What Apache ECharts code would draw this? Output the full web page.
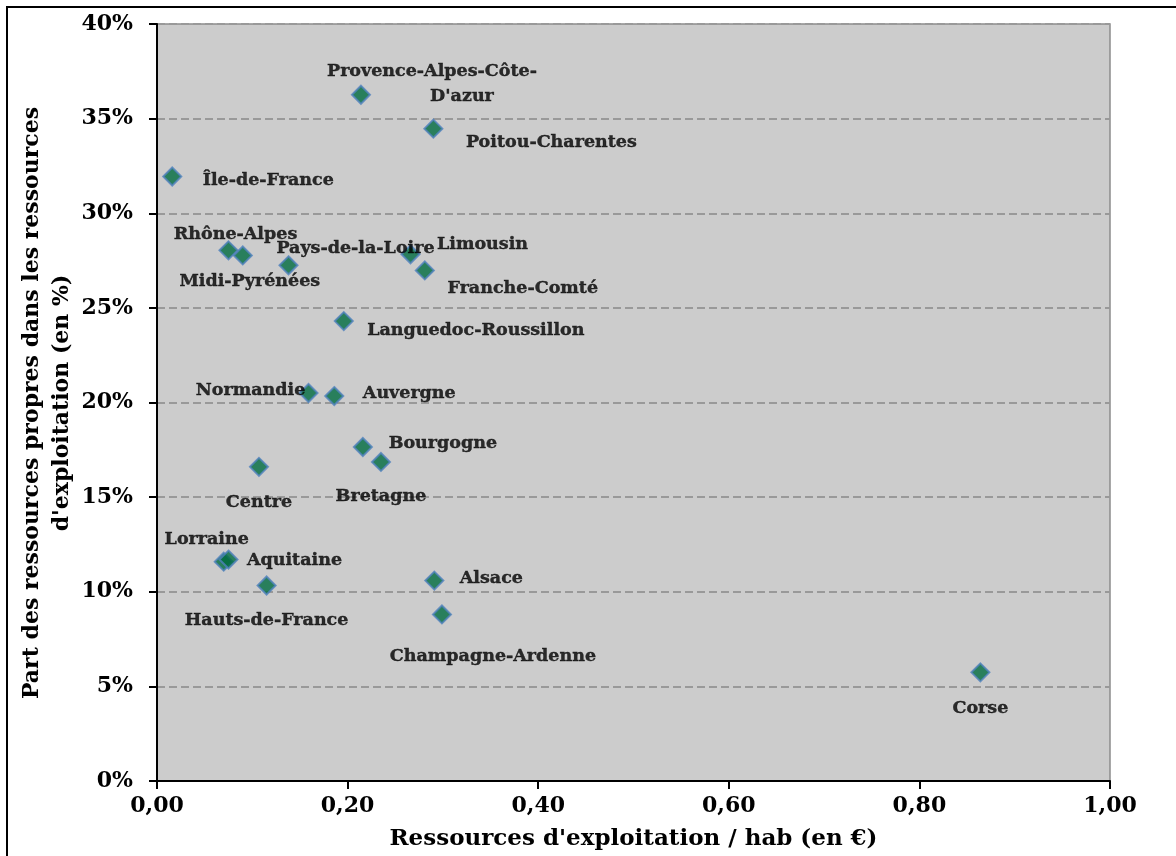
<!DOCTYPE html>
<html>
<head>
<meta charset="utf-8">
<script src="https://cdn.jsdelivr.net/npm/echarts@6/dist/echarts.min.js"></script>
<style>
  html, body { margin: 0; padding: 0; background: #fff; }
  #chart { width: 1176px; height: 856px; }
</style>
</head>
<body>
<div id="chart"></div>
<script>
// régions et valeurs
const regions = [
  'Île-de-France', "Provence-Alpes-Côte-D'azur", 'Poitou-Charentes', 'Rhône-Alpes',
  'Midi-Pyrénées', 'Pays-de-la-Loire', 'Limousin', 'Franche-Comté',
  'Languedoc-Roussillon', 'Normandie', 'Auvergne', 'Bourgogne', 'Bretagne',
  'Centre', 'Lorraine', 'Aquitaine', 'Hauts-de-France', 'Alsace',
  'Champagne-Ardenne', 'Corse'
]
const ressourcesHab = [
  0.016, 0.214, 0.290, 0.075, 0.090, 0.138, 0.266, 0.281, 0.196, 0.159,
  0.186, 0.216, 0.235, 0.107, 0.070, 0.075, 0.115, 0.291, 0.299, 0.864
]
const partPropres = [
  0.3194, 0.3626, 0.3447, 0.2804, 0.2777, 0.2725, 0.2783, 0.2698, 0.2430, 0.2050,
  0.2034, 0.1765, 0.1686, 0.1660, 0.1159, 0.1170, 0.1033, 0.1059, 0.0880, 0.0574
]
const xTicks = [0, 0.2, 0.4, 0.6, 0.8, 1.0]
const yTicks = [0, 0.05, 0.1, 0.15, 0.2, 0.25, 0.3, 0.35, 0.4]

// décalage des étiquettes (px) par rapport au point
const labelOffsets = {
  'Île-de-France': [96, 4],
  "Provence-Alpes-Côte-D'azur": [71, -11],
  'Poitou-Charentes': [118, 14],
  'Rhône-Alpes': [7, -16],
  'Midi-Pyrénées': [7, 26],
  'Pays-de-la-Loire': [67, -17],
  'Limousin': [72, -10],
  'Franche-Comté': [98, 18],
  'Languedoc-Roussillon': [132, 9],
  'Normandie': [-58, -3],
  'Auvergne': [75, -3],
  'Bourgogne': [80, -4],
  'Bretagne': [0, 35],
  'Centre': [0, 36],
  'Lorraine': [-17, -22],
  'Aquitaine': [66, 1],
  'Hauts-de-France': [0, 35],
  'Alsace': [57, -2],
  'Champagne-Ardenne': [51, 42],
  'Corse': [0, 36]
}

const font = 'DejaVu Serif'
const lblStyle = {
  fontFamily: font, fontWeight: 'bold', fontSize: 17.5, color: '#000',
  textBorderColor: '#000', textBorderWidth: 0.4
}

const points = regions.map((name, i) => ({
  name: name,
  value: [ressourcesHab[i], partPropres[i]],
  label: {
    offset: labelOffsets[name],
    formatter: name === "Provence-Alpes-Côte-D'azur"
      ? "{a|Provence-Alpes-Côte-}\n{b|D'azur}"
      : name
  }
}))

const chart = echarts.init(document.getElementById('chart'))

chart.setOption({
  animation: false,
  backgroundColor: '#fff',
  grid: {
    left: 157, top: 24, right: 66, bottom: 73,
    show: true,
    backgroundColor: '#cccccc',
    borderColor: '#8c8c8c',
    borderWidth: 1.5
  },
  xAxis: {
    type: 'value',
    min: xTicks[0], max: xTicks[xTicks.length - 1], interval: 0.2,
    name: "Ressources d'exploitation / hab (en €)",
    nameLocation: 'middle',
    nameGap: 47,
    nameTextStyle: { fontFamily: font, fontWeight: 'bold', fontSize: 23, color: '#000' },
    axisLine: { show: true, lineStyle: { color: '#000', width: 2 } },
    axisTick: { show: true, inside: false, length: 8, lineStyle: { color: '#000', width: 2 } },
    axisLabel: {
      margin: 14,
      fontFamily: font, fontWeight: 'bold', fontSize: 22, color: '#000',
      formatter: v => v.toFixed(2).replace('.', ',')
    },
    splitLine: { show: false }
  },
  yAxis: {
    type: 'value',
    min: yTicks[0], max: yTicks[yTicks.length - 1], interval: 0.05,
    axisLine: { show: true, lineStyle: { color: '#000', width: 2 } },
    axisTick: { show: true, inside: false, length: 8, lineStyle: { color: '#000', width: 2 } },
    axisLabel: {
      margin: 24,
      fontFamily: font, fontWeight: 'bold', fontSize: 22, color: '#000',
      formatter: v => Math.round(v * 100) + '%'
    },
    splitLine: { show: true, lineStyle: { color: '#999', width: 2, type: [8, 4] } }
  },
  graphic: [
    {
      type: 'rect',
      shape: { x: 7, y: 7, width: 1200, height: 900 },
      style: { fill: 'none', stroke: '#000', lineWidth: 2 },
      silent: true
    },
    {
      type: 'text',
      x: 32, y: 403, rotation: Math.PI / 2,
      style: {
        text: 'Part des ressources propres dans les ressources',
        fontFamily: font, fontWeight: 'bold', fontSize: 22, fill: '#000',
        align: 'center', verticalAlign: 'middle'
      }
    },
    {
      type: 'text',
      x: 62, y: 403, rotation: Math.PI / 2,
      style: {
        text: "d'exploitation (en %)",
        fontFamily: font, fontWeight: 'bold', fontSize: 22, fill: '#000',
        align: 'center', verticalAlign: 'middle'
      }
    }
  ],
  series: [{
    type: 'scatter',
    symbol: 'diamond',
    symbolSize: 18,
    itemStyle: { color: '#006b40', borderColor: '#4f81bd', borderWidth: 2 },
    label: Object.assign({
      show: true,
      position: 'inside',
      align: 'center',
      verticalAlign: 'middle',
      rich: {
        a: Object.assign({ lineHeight: 25 }, lblStyle),
        b: Object.assign({ lineHeight: 25, padding: [0, 0, 0, 60] }, lblStyle)
      }
    }, lblStyle),
    data: points
  }]
})
</script>
</body>
</html>
